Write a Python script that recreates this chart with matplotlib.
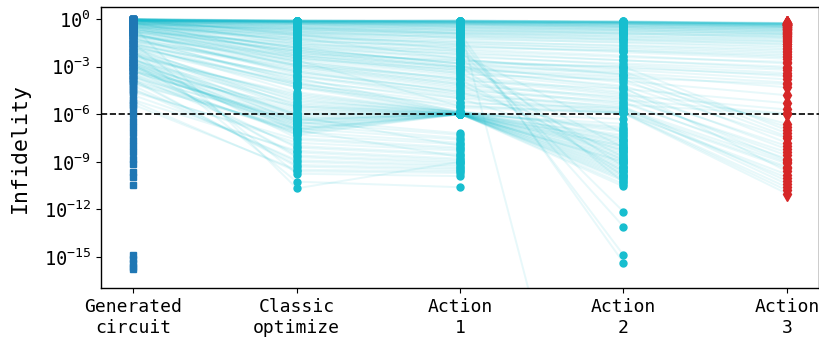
import numpy as np
import matplotlib
matplotlib.use("Agg")
import matplotlib.pyplot as plt
from matplotlib.ticker import LogFormatterSciNotation, NullLocator, FixedLocator

plt.rcParams['font.family'] = ['DejaVu Sans Mono']
plt.rcParams['mathtext.fontset'] = 'custom'
plt.rcParams['mathtext.rm'] = 'DejaVu Sans Mono'
plt.rcParams['mathtext.it'] = 'DejaVu Sans Mono'
plt.rcParams['mathtext.bf'] = 'DejaVu Sans Mono'

nan = np.nan

stages = ["Generated\ncircuit", "Classic\noptimize", "Action\n1", "Action\n2", "Action\n3"]

# log10(infidelity) of each circuit at each stage (nan = not continued)
generated = [
    0.0, -0.05, -0.1, -0.1, 0.0, -0.05, -0.1, 0.0, -0.2, -0.05, -0.1, 0.0, -0.2, -0.05, -0.3,
    0.0, -0.1, -0.2, -0.05, -0.4, -0.1, -0.3, 0.0, -0.5, -0.2, -0.6, -0.05, -0.1, 0.0, -0.05,
    -0.8, -1.0, -1.4, -0.9,
    -0.3, -0.8, -0.4, -1.0, -0.6, -1.2, -0.9, -1.5, -0.7, -1.3, -1.1, -0.5, -1.8,
    -1.5, -2.0, -1.8, -2.5, -2.2, -3.0, -2.8, -1.2, -2.6, -3.3, -1.9, -3.5, -2.4, -1.6, -2.9,
    -3.8, -2.1, -2.7, -2.3, -3.1,
    -3.0, -3.5, -4.0, -2.5, -4.5, -3.2, -4.8, -2.8, -4.2, -3.8, -5.2, -1.5, -2.0, -0.5,
    -0.3, -0.2, -0.5, -0.4, 0.0,
    -5.6, -6.0, -6.4, -6.8, -7.2, -7.6, -8.0, -8.4, -8.8, -9.15, -9.65, -9.95, -10.45,
    -14.85, -15.1, -15.35, -15.6, -15.75,
    -0.02, -0.08, -0.15, -0.03, -0.12, -0.25, -0.05, -0.18, -0.3, -0.08, -0.35, -0.15, -0.45, -0.02,
    -0.25, -0.55, -0.1, -0.4, -0.7, -0.2, -0.05, -0.1, -0.02, -0.12, -0.2, -0.06, -0.14, -0.28,
    -0.04, -0.35, -0.1, -0.5, -0.22, -0.65, -0.3, -0.8, -0.05, -0.1, -0.02, -0.16,
    -0.6, -1.1, -0.5, -1.4, -0.9, -1.6, -0.8, -1.2, -1.7, -0.7, -1.9, -1.0,
    -1.7, -2.3, -2.0, -2.7, -3.2, -2.5, -3.6, -1.4, -2.9, -3.4, -2.2, -3.9, -2.6, -1.8, -3.0,
    -2.4, -3.7, -2.1, -2.8, -3.3,
    -0.8, -0.5, -1.0, -0.4, -1.3, -0.6, -1.1, -0.3, -1.6, -0.9,
    -3.3, -4.1, -2.7, -4.6, -3.6, -5.1, -2.9, -4.4, -3.9, -5.4, -2.2, -3.1,
]
classic = [
    -0.1, -0.1, -0.15, -0.15, -0.15, -0.2, -0.2, -0.25, -0.3, -0.3, -0.4, -0.35, -0.5, -0.5, -0.6,
    -0.7, -0.8, -0.9, -1.0, -1.1, -1.2, -1.4, -1.5, -1.7, -1.9, -2.1, -0.1, -0.1, -0.1, -0.15,
    -2.4, -2.7, -3.1, -2.9,
    -1.6, -2.2, -2.5, -2.8, -3.0, -3.2, -3.5, -3.8, -2.0, -3.3, -2.6, -1.8, -4.0,
    -4.2, -5.0, -5.5, -6.2, -6.5, -6.8, -7.0, -4.0, -5.8, -6.4, -5.2, -7.3, -6.0, -4.6, -6.6,
    -7.1, -5.4, -6.3, -4.8, -6.9,
    -6.3, -6.7, -7.1, -7.5, -7.8, -8.1, -8.4, -8.7, -9.0, -9.3, -9.6, -9.75, -10.25, -10.67,
    -0.6, -0.8, -1.0, -1.3, -0.2,
    nan, nan, nan, nan, nan, nan, nan, nan, nan, nan, nan, nan, nan,
    nan, nan, nan, nan, nan,
    -0.12, -0.12, -0.2, -0.18, -0.25, -0.3, -0.35, -0.45, -0.55, -0.6, -0.65, -0.75, -0.85, -0.95,
    -1.05, -1.3, -1.6, -1.8, -2.0, -2.3, -0.15, -0.2, -0.1, -0.15, -0.25, -0.2, -0.3, -0.4,
    -0.5, -0.7, -0.9, -1.2, -1.4, -1.7, -2.2, -2.5, -0.12, -0.12, -0.15, -0.18,
    -1.9, -2.4, -2.7, -3.0, -3.4, -3.6, -2.3, -3.9, -4.1, -2.1, -4.3, -2.9,
    -4.3, -5.1, -5.6, -6.1, -6.6, -6.9, -7.2, -3.7, -5.9, -6.3, -4.9, -7.0, -5.3, -4.1, -6.7,
    -4.7, -6.4, -5.7, -6.0, -5.5,
    -1.5, -1.8, -2.3, -1.2, -2.9, -2.0, -3.3, -1.0, -3.6, -2.6,
    -6.5, -6.9, -7.3, -7.6, -8.0, -8.3, -8.6, -8.9, -9.2, -9.5, -6.1, -7.0,
]
action1 = [
    -0.1, -0.15, -0.15, -0.2, -0.2, -0.25, -0.3, -0.3, -0.4, -0.5, -0.6, -0.7, -0.8, -0.9, -1.0,
    -1.1, -1.2, -1.4, -1.5, -1.7, -1.9, -2.1, -2.3, -2.6, -2.8, -3.1, -0.1, -0.15, -0.1, -0.1,
    -3.4, -3.8, -4.4, -4.1,
    -2.5, -3.3, -3.6, -4.0, -4.3, -4.6, -4.9, -5.2, -3.0, -4.8, -5.5, -2.9, -5.6,
    -5.9, -6.0, -5.95, -6.0, -5.9, -6.0, -5.97, -5.8, -5.92, -6.0, -5.85, -5.99, -5.96, -5.9, -5.98,
    -6.0, -5.94, -5.97, -5.9, -5.99,
    -7.2, -7.5, -7.8, -8.1, -8.3, -8.6, -8.9, -9.1, -9.3, -9.5, -9.7, -9.9, -10.6, -9.0,
    -0.9, -1.2, -1.6, -2.0, -0.5,
    nan, nan, nan, nan, nan, nan, nan, nan, nan, nan, nan, nan, nan,
    nan, nan, nan, nan, nan,
    -0.12, -0.18, -0.22, -0.28, -0.35, -0.38, -0.45, -0.55, -0.65, -0.75, -0.85, -0.95, -1.05, -1.3,
    -1.6, -1.8, -2.0, -2.4, -2.7, -3.0, -0.2, -0.25, -0.15, -0.2, -0.3, -0.35, -0.45, -0.55,
    -0.7, -0.9, -1.15, -1.45, -1.7, -2.2, -2.6, -3.2, -0.15, -0.12, -0.18, -0.25,
    -2.8, -3.5, -3.9, -4.2, -4.5, -4.7, -3.2, -5.0, -5.3, -3.1, -5.45, -3.7,
    -5.93, -5.98, -6.0, -5.96, -6.0, -5.99, -6.0, -5.86, -5.95, -5.99, -5.9, -6.0, -5.97, -5.88, -5.98,
    -5.93, -6.0, -5.96, -5.99, -5.97,
    -2.2, -2.8, -3.4, -2.5, -4.1, -3.0, -4.6, -1.9, -5.0, -3.8,
    -7.3, -7.6, -7.9, -8.2, -8.5, -8.8, -9.0, -9.2, -9.4, -9.6, -8.0, -8.7,
]
action2 = [
    -0.15, -0.2, -0.2, -0.25, -0.3, -0.3, -0.4, -0.5, -0.5, -0.6, -0.7, -0.8, -0.9, -1.0, -1.2,
    -1.3, -1.5, -1.7, -1.9, -2.1, -2.3, -2.6, -2.9, -3.2, -3.5, -3.9, -0.15, -0.2, -0.15, -0.2,
    -4.4, -4.8, -5.4, -5.1,
    -3.5, -4.2, -4.6, -5.0, -5.3, -5.6, -5.8, -5.9, -4.0, -5.5, -5.9, -3.3, -5.95,
    -8.5, -9.0, -8.0, -9.5, -7.5, -10.0, -8.8, -7.0, -9.2, -8.2, -7.8, -9.8, -10.2, -6.8, -8.6,
    -9.3, -7.3, -10.55, -6.3, -6.6,
    nan, nan, nan, nan, nan, nan, nan, nan, nan, nan, nan, nan, nan, nan,
    -15.35, -14.87, -13.08, -12.14, -40.0,
    nan, nan, nan, nan, nan, nan, nan, nan, nan, nan, nan, nan, nan,
    nan, nan, nan, nan, nan,
    -0.18, -0.22, -0.28, -0.35, -0.42, -0.45, -0.55, -0.65, -0.75, -0.85, -0.95, -1.1, -1.25, -1.45,
    -1.8, -2.0, -2.4, -2.8, -3.0, -3.4, -0.25, -0.35, -0.2, -0.3, -0.4, -0.5, -0.6, -0.7,
    -0.9, -1.1, -1.35, -1.65, -2.0, -2.6, -3.1, -3.7, -0.18, -0.2, -0.25, -0.3,
    -3.0, -3.8, -4.4, -4.9, -5.2, -5.7, -4.3, -5.85, -5.6, -3.6, -5.92, -4.7,
    -8.3, -9.1, -8.7, -9.6, -7.6, -10.1, -8.9, -7.1, -9.4, -8.1, -7.9, -9.9, -10.4, -6.9, -8.4,
    -7.4, -9.7, -8.0, -9.0, -7.7,
    -7.2, -8.1, -8.7, -9.3, -8.9, -9.9, -7.6, -10.3, -8.3, -9.6,
    nan, nan, nan, nan, nan, nan, nan, nan, nan, nan, nan, nan,
]
action3 = [
    -0.25, -0.3, -0.3, -0.4, -0.4, -0.5, -0.5, -0.6, -0.7, -0.8, -0.9, -1.0, -1.1, -1.2, -1.4,
    -1.6, -1.8, -2.0, -2.2, -2.5, -2.8, -3.1, -3.4, -3.8, -4.3, -4.8, -0.3, -0.25, -0.25, -0.35,
    -5.3, -5.7, -6.0, -5.95,
    -6.8, -7.5, -8.0, -8.4, -8.8, -9.1, -9.4, -9.8, -6.6, -10.2, -10.6, -7.2, -11.0,
    nan, nan, nan, nan, nan, nan, nan, nan, nan, nan, nan, nan, nan, nan, nan,
    nan, nan, nan, nan, nan,
    nan, nan, nan, nan, nan, nan, nan, nan, nan, nan, nan, nan, nan, nan,
    nan, nan, nan, nan, -40.0,
    nan, nan, nan, nan, nan, nan, nan, nan, nan, nan, nan, nan, nan,
    nan, nan, nan, nan, nan,
    -0.28, -0.32, -0.35, -0.45, -0.55, -0.6, -0.65, -0.75, -0.85, -0.95, -1.05, -1.25, -1.45, -1.7,
    -2.1, -2.3, -2.7, -3.2, -3.6, -4.0, -0.4, -0.5, -0.3, -0.45, -0.55, -0.7, -0.8, -0.95,
    -1.15, -1.35, -1.55, -1.9, -2.4, -3.0, -3.5, -4.1, -0.28, -0.3, -0.35, -0.4,
    -7.0, -7.8, -8.2, -8.6, -9.0, -9.3, -9.6, -10.0, -10.4, -7.4, -10.8, -8.9,
    nan, nan, nan, nan, nan, nan, nan, nan, nan, nan, nan, nan, nan, nan, nan,
    nan, nan, nan, nan, nan,
    nan, nan, nan, nan, nan, nan, nan, nan, nan, nan,
    nan, nan, nan, nan, nan, nan, nan, nan, nan, nan, nan, nan,
]
threshold = 1e-6

data = 10.0 ** np.array([generated, classic, action1, action2, action3])  # shape (5, N)
xs = np.arange(len(stages))
n = data.shape[1]

fig = plt.figure(figsize=(8.2, 3.38), dpi=100)
ax = fig.add_axes([100.7 / 820, (338 - 288.3) / 338, (819.5 - 100.7) / 820, (288.3 - 7.3) / 338])
ax.set_yscale('log')

for i in range(n):
    ax.plot(xs, data[:, i], color='#17becf', alpha=0.1, lw=1.4, zorder=1)

ax.plot(np.full(n, xs[0]), data[0], 's', color='#1f77b4', ms=5, zorder=3, ls='none')
for k in (1, 2, 3):
    ax.plot(np.full(n, xs[k]), data[k], 'o', color='#17becf', ms=5, zorder=3, ls='none')
ax.plot(np.full(n, xs[4]), data[4], 'd', color='#d62728', ms=7, zorder=3, ls='none')

ax.axhline(threshold, color='black', ls='--', lw=1.2, zorder=2)

ax.set_xlim(-0.2, 4.2)
ax.set_ylim(10 ** -16.97, 10 ** 0.74)
ax.set_xticks(xs)
ax.set_xticklabels(stages, fontsize=13)
ax.yaxis.set_major_locator(FixedLocator([1e0, 1e-3, 1e-6, 1e-9, 1e-12, 1e-15]))
ax.yaxis.set_major_formatter(LogFormatterSciNotation())
ax.yaxis.set_minor_locator(NullLocator())
ax.tick_params(axis='y', labelsize=13.5)
ax.set_ylabel('Infidelity', fontsize=15.5, labelpad=10)
for s in ax.spines.values():
    s.set_linewidth(1.0)

fig.savefig('out.png', dpi=100)
